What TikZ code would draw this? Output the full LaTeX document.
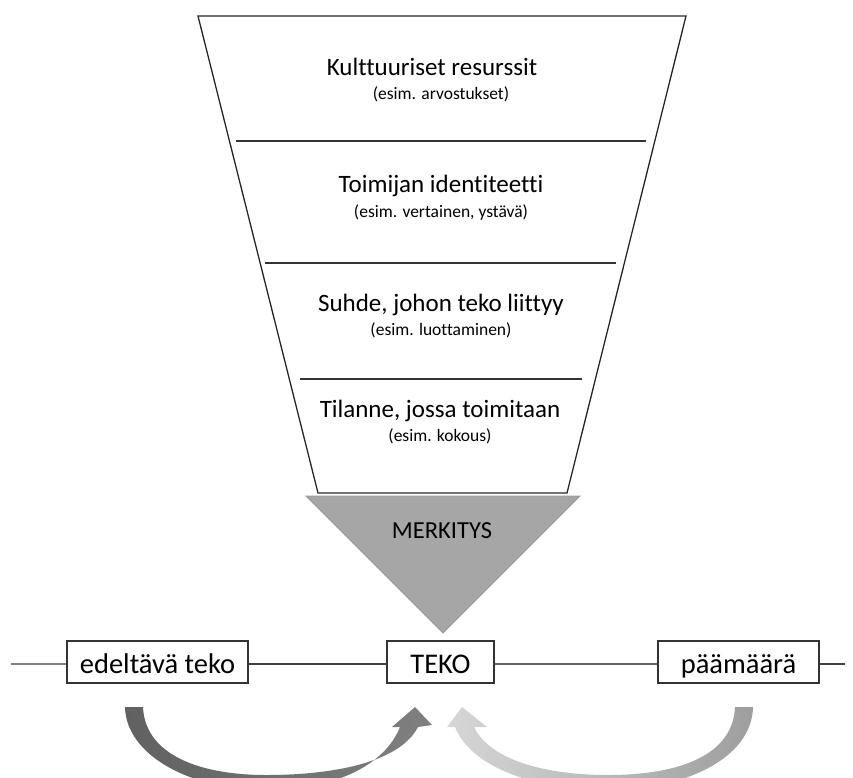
\documentclass[tikz,border=0pt]{standalone}
\usepackage{fontspec}
\setmainfont{Carlito}[Ligatures=NoCommon]
\begin{document}
\begin{tikzpicture}[x=1pt,y=-1pt,
  maintxt/.style={anchor=base,inner sep=0pt,font=\fontsize{25}{28}\selectfont,text=black},
  subtxt/.style={anchor=base,inner sep=0pt,font=\fontsize{17.5}{22}\selectfont,text=black},
  stagebox/.style={draw=black!80,line width=1.3pt,fill=white,inner sep=0pt,minimum height=42pt,
    text height=24pt,text depth=2pt,font=\fontsize{28.5}{30}\selectfont,text=black},
  divider/.style={draw=black!80,line width=1.2pt},
  conn/.style={draw=black!75,line width=1.4pt}]
\useasboundingbox (0,0) rectangle (853,778);
\begin{scope}
\clip (0,0) rectangle (853,778);
% funnel
\draw[black!85,line width=1.3pt,line join=miter] (198,16) -- (686,16) -- (567,493) -- (318,493) -- cycle;
\draw[divider] (236,141) -- (646,141);
\draw[divider] (265,263) -- (616,263);
\draw[divider] (300,379) -- (582,379);
% band texts
\node[maintxt] (t1) at (432,76) {Kulttuuriset resurssit};
\node[subtxt] (s1) at (441,100) {(esim. arvostukset)};
\node[maintxt] (t2) at (441,192) {Toimijan identiteetti};
\node[subtxt] (s2) at (441,217) {(esim. vertainen, ystävä)};
\node[maintxt] (t3) at (441,311) {Suhde, johon teko liittyy};
\node[subtxt] (s3) at (441,335) {(esim. luottaminen)};
\node[maintxt] (t4) at (440,417) {Tilanne, jossa toimitaan};
\node[subtxt] (s4) at (440,441) {(esim. kokous)};
% merkitys triangle
\fill[black!35,draw=black!40,line width=0.8pt] (306,496) -- (580,496) -- (443,633) -- cycle;
\node[maintxt,font=\fontsize{24.5}{28}\selectfont] (m) at (442,538) {MERKITYS};
% process line
\coordinate (lstart) at (11,664);
\coordinate (lend) at (845,664);
\node[stagebox,minimum width=181pt] (b1) at (157.5,662) {edeltävä teko};
\node[stagebox,minimum width=107pt] (b2) at (440.5,662) {TEKO};
\node[stagebox,minimum width=161pt] (b3) at (738.5,662) {päämäärä};
\draw[conn,draw=black!50] (lstart) -- (b1.west |- lstart);
\draw[conn] (b1.east |- lstart) -- (b2.west |- lstart);
\draw[conn,draw=black!60] (b2.east |- lstart) -- (b3.west |- lstart);
\draw[conn] (b3.east |- lstart) -- (lend);
% curved arrows
\shade[left color=black!62,right color=black!50]
  (125,707) .. controls (126,755) and (190,790) .. (266,790)
  .. controls (335,790) and (385,765) .. (400,727)
  -- (392,727) -- (415,707) -- (432,725) -- (418,727)
  .. controls (400,762) and (335,775) .. (266,775)
  .. controls (200,775) and (145,755) .. (143,707) -- cycle;
\shade[left color=black!16,right color=black!38]
  (753,707) .. controls (752,758) and (685,790) .. (608,790)
  .. controls (530,790) and (470,765) .. (455,727)
  -- (447,727) -- (462,707) -- (487,727) -- (474,727)
  .. controls (490,760) and (545,775) .. (608,775)
  .. controls (680,775) and (733,755) .. (735,707) -- cycle;
\end{scope}
\end{tikzpicture}
\end{document}
